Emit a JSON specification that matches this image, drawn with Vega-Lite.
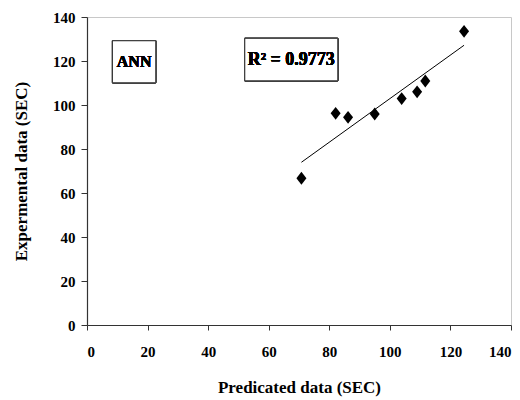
{
  "$schema": "https://vega.github.io/schema/vega-lite/v6.json",
  "autosize": "none",
  "width": 424,
  "height": 308,
  "padding": {"left": 87, "top": 17, "right": 9, "bottom": 75},
  "background": "white",
  "config": {
    "font": "Liberation Serif",
    "view": {"stroke": "#c8c8c8", "strokeWidth": 1},
    "axis": {
      "grid": false,
      "domainColor": "#333333",
      "domainWidth": 1.2,
      "tickColor": "#333333",
      "tickSize": 5,
      "labelFont": "Liberation Serif",
      "labelFontWeight": "bold",
      "labelFontSize": 15,
      "labelColor": "black",
      "titleFont": "Liberation Serif",
      "titleFontWeight": "bold",
      "titleFontSize": 17,
      "titleColor": "black"
    }
  },
  "data": {
    "values": [
      {"predicted": 70.8, "experimental": 66.7},
      {"predicted": 82.1, "experimental": 96.2},
      {"predicted": 86.2, "experimental": 94.4},
      {"predicted": 95.0, "experimental": 95.9},
      {"predicted": 103.9, "experimental": 102.9},
      {"predicted": 109.0, "experimental": 106.0},
      {"predicted": 111.7, "experimental": 110.9},
      {"predicted": 124.5, "experimental": 133.5}
    ]
  },
  "layer": [
    {
      "transform": [{"regression": "experimental", "on": "predicted"}],
      "mark": {"type": "line", "color": "black", "strokeWidth": 1},
      "encoding": {
        "x": {"field": "predicted", "type": "quantitative"},
        "y": {"field": "experimental", "type": "quantitative"}
      }
    },
    {
      "mark": {"type": "point", "shape": "M-0.78,0L0,-1L0.78,0L0,1Z", "filled": true, "color": "black", "opacity": 1, "size": 165},
      "encoding": {
        "x": {
          "field": "predicted", "type": "quantitative",
          "scale": {"domain": [0, 140], "nice": false},
          "axis": {"values": [0, 20, 40, 60, 80, 100, 120, 140], "labelPadding": 14, "titlePadding": 20},
          "title": "Predicated data (SEC)"
        },
        "y": {
          "field": "experimental", "type": "quantitative",
          "scale": {"domain": [0, 140], "nice": false},
          "axis": {"values": [0, 20, 40, 60, 80, 100, 120, 140], "tickSize": 6, "labelPadding": 6, "titlePadding": 22},
          "title": "Expermental data (SEC)"
        }
      }
    },
    {
      "mark": {"type": "rect", "fill": "white", "stroke": "#333333", "strokeWidth": 1},
      "encoding": {
        "x": {"datum": 8.4, "type": "quantitative"},
        "x2": {"datum": 22.7},
        "y": {"datum": 110.1, "type": "quantitative"},
        "y2": {"datum": 129.2}
      }
    },
    {
      "mark": {"type": "rect", "fill": "white", "stroke": "#333333", "strokeWidth": 1},
      "encoding": {
        "x": {"datum": 52.1, "type": "quantitative"},
        "x2": {"datum": 82.8},
        "y": {"datum": 111.0, "type": "quantitative"},
        "y2": {"datum": 130.3}
      }
    },
    {
      "mark": {"type": "text", "text": "ANN", "font": "Liberation Serif", "fontWeight": "bold", "fontSize": 16, "color": "black", "align": "center", "baseline": "middle"},
      "encoding": {
        "x": {"datum": 15.55, "type": "quantitative"},
        "y": {"datum": 119.6, "type": "quantitative"}
      }
    },
    {
      "mark": {"type": "text", "text": "R² = 0.9773", "font": "Liberation Serif", "fontWeight": "bold", "fontSize": 18, "color": "black", "align": "center", "baseline": "middle"},
      "encoding": {
        "x": {"datum": 67.45, "type": "quantitative"},
        "y": {"datum": 120.6, "type": "quantitative"}
      }
    }
  ]
}
